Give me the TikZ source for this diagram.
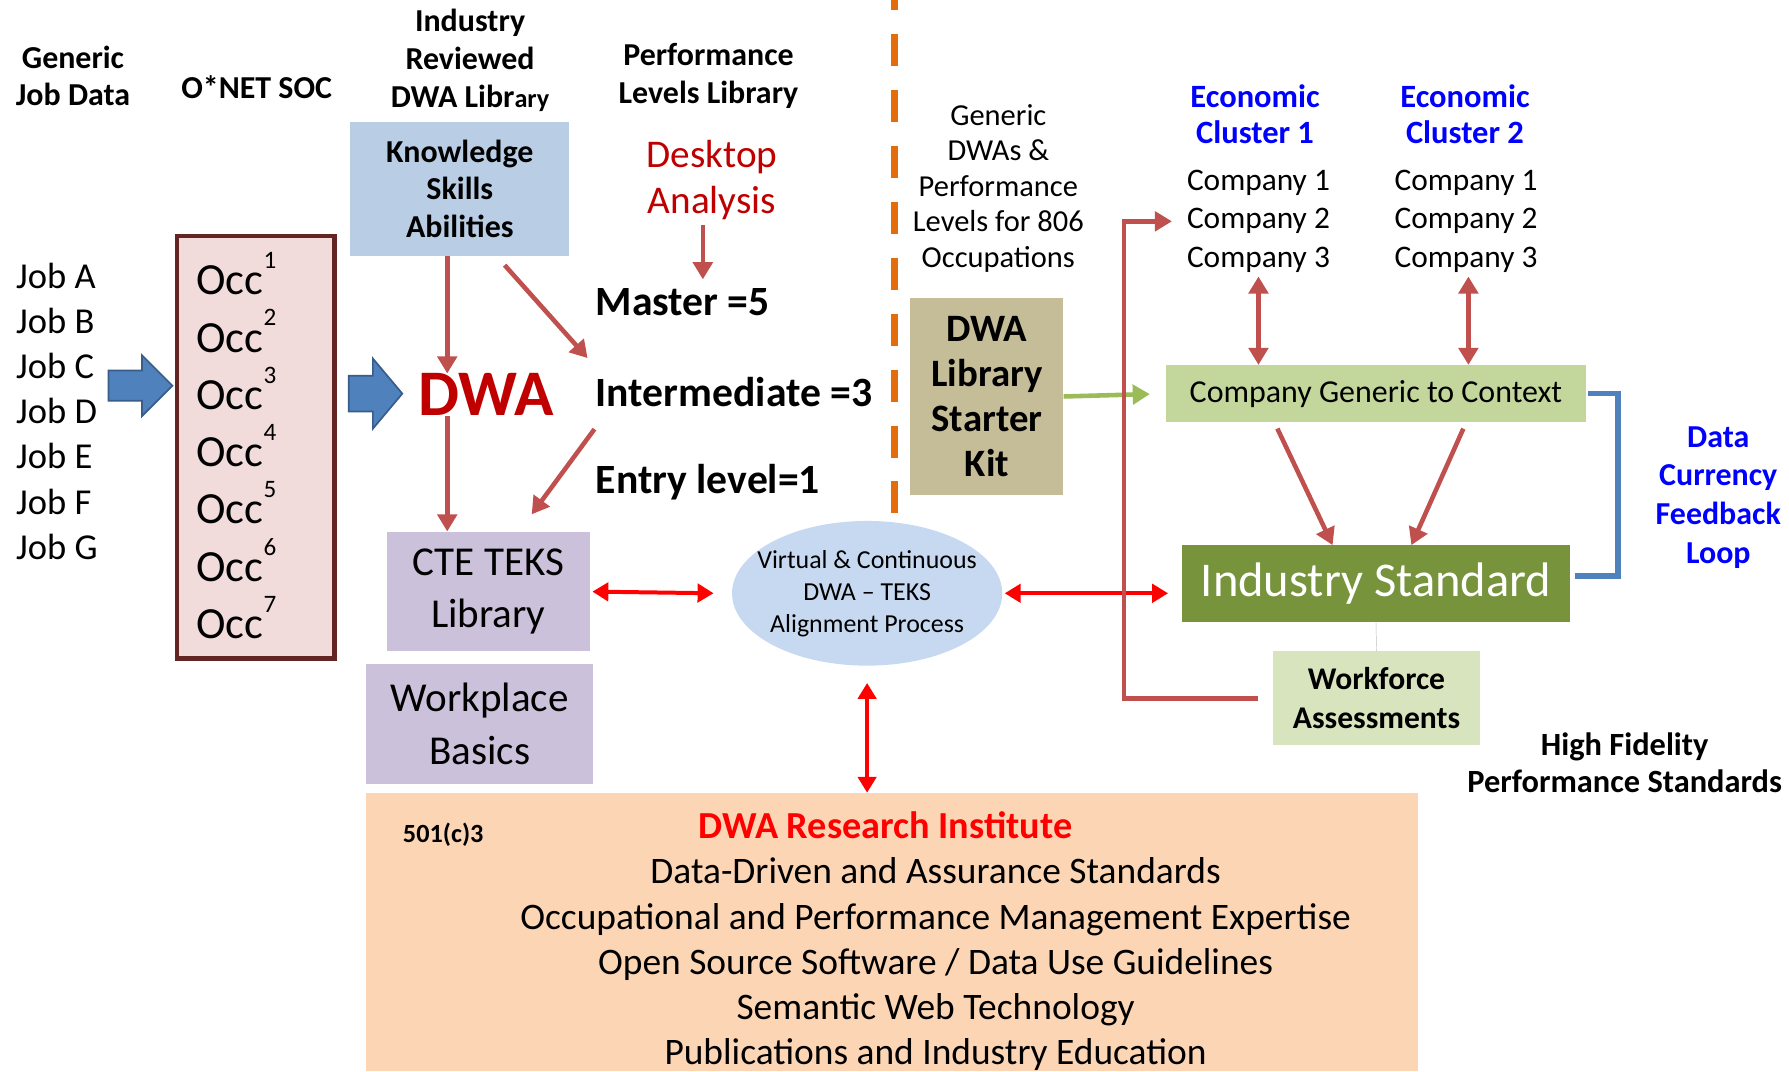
\documentclass[tikz,border=0pt]{standalone}
\usepackage{fontspec}
\setmainfont{Carlito}
\usetikzlibrary{arrows.meta, shapes.arrows, shapes.geometric, positioning}

\definecolor{ksablue}{HTML}{B9CDE5}
\definecolor{occpink}{HTML}{F2DCDB}
\definecolor{occborder}{HTML}{632523}
\definecolor{tekslilac}{HTML}{CCC1DA}
\definecolor{alignblue}{HTML}{C6D9F1}
\definecolor{kittan}{HTML}{C4BD97}
\definecolor{contextgreen}{HTML}{C3D69B}
\definecolor{standardgreen}{HTML}{77933C}
\definecolor{workforcegreen}{HTML}{D7E4BD}
\definecolor{institutepeach}{HTML}{FCD5B5}
\definecolor{arrowred}{HTML}{C0504D}
\definecolor{dwared}{HTML}{C00000}
\definecolor{dashorange}{HTML}{E46C0A}
\definecolor{blockblue}{HTML}{4F81BD}
\definecolor{blockedge}{HTML}{385D8A}
\definecolor{kitgreen}{HTML}{9BBB59}
\definecolor{textblue}{HTML}{0000FF}

\newcommand{\fsz}[2]{\fontsize{#1}{#2}\selectfont}

\begin{document}
\begin{tikzpicture}[x=1pt, y=-1pt,
    head/.style={font=\fsz{28}{33}\bfseries, align=center, inner sep=0pt},
    box/.style={inner sep=0pt, align=center},
    job/.style={font=\fsz{32}{36}, anchor=west, inner sep=0pt},
    occ/.style={font=\fsz{39}{40}, anchor=west, inner sep=0pt},
    level/.style={font=\fsz{36.5}{40}\bfseries, anchor=west, inner sep=0pt},
    company/.style={font=\fsz{27.5}{30}, inner sep=0pt},
    cluster/.style={font=\fsz{28.5}{32}\bfseries, text=textblue, align=center, inner sep=0pt},
    blockarrow/.style={single arrow, draw=blockedge, fill=blockblue, line width=1.5pt, inner xsep=0pt},
    redarrow/.style={draw=arrowred, line width=4pt, -{Triangle[length=15pt,width=17pt]}},
    redboth/.style={draw=arrowred, line width=4pt, {Triangle[length=15pt,width=17pt]}-{Triangle[length=15pt,width=17pt]}},
    linkboth/.style={draw=red, line width=3.5pt, {Triangle[length=14pt,width=16pt]}-{Triangle[length=14pt,width=16pt]}},
]
    \path[use as bounding box, fill=white] (0,0) rectangle (1568,939);

    \node [head] (jobdata) at (64,66.5) {Generic\\Job Data};
    \node [head] (onet) at (225,76) {O*NET SOC};
    \node [head] (dwalib) at (412,53) {Industry\\Reviewed\\DWA Libr{\fsz{23}{33}ary}};
    \node [head] (perflib) at (621,66.5) {Performance\\Levels Library};
    \node [box, font=\fsz{26.7}{31}] (genericdwa) at (875,165) {Generic\\DWAs \&\\Performance\\Levels for 806\\Occupations};
    \node [cluster] (econ1) at (1100,100) {Economic\\Cluster 1};
    \node [cluster] (econ2) at (1284,100) {Economic\\Cluster 2};
    \foreach \k/\x in {1/1103, 2/1285}
        \foreach \n in {1,2,3}
            \node [company] (c\k\n) at (\x,126+34*\n) {Company \n};

    \foreach \j [count=\i] in {A,B,C,D,E,F,G}
        \node [job] (job\j) at (14,242+39.5*\i-39.5) {Job \j};
    \node [draw=occborder, line width=4pt, fill=occpink, minimum width=138pt, minimum height=370pt] (occbox) at (224,392) {};
    \foreach \i in {1,...,7}
        \node [occ] (occ\i) at (172,240+50.2*\i-50.2) {Occ\raisebox{23pt}{\fsz{22}{22}\i}};

    \node [blockarrow, inner ysep=12.5pt, minimum height=56pt, single arrow head extend=13.5pt, single arrow tip angle=90] (jobarrow) at (116.5,338) {};
    \node [blockarrow, inner ysep=15pt, minimum height=47pt, single arrow head extend=15pt, single arrow tip angle=100] (occarrow) at (322.5,345) {};

    \node [box, fill=ksablue, minimum width=192pt, minimum height=117pt, font=\fsz{28}{33}\bfseries] (ksa) at (403,165.5) {Knowledge\\Skills\\Abilities};
    \node [inner sep=0pt, text=dwared, font=\fsz{57}{60}\bfseries] (dwa) at (426,346) {DWA};
    \node [box, text=dwared, font=\fsz{34.4}{40}] (desktop) at (624,158) {Desktop\\Analysis};
    \node [level] (master) at (522,265) {Master =5};
    \node [level] (inter) at (522,344) {Intermediate =3};
    \node [level] (entry) at (522,423) {Entry level=1};

    \node [box, fill=tekslilac, minimum width=178pt, minimum height=105pt, font=\fsz{36}{46}] (teks) at (428,518.5) {CTE TEKS\\Library};
    \node [box, fill=tekslilac, minimum width=199pt, minimum height=105pt, font=\fsz{36}{46}] (basics) at (420.5,634.5) {Workplace\\Basics};
    \node [ellipse, fill=alignblue, inner xsep=-12.5pt, inner ysep=7pt, align=center, font=\fsz{22.7}{28}] (align) at (760,520) {Virtual \& Continuous\\DWA -- TEKS\\Alignment Process};

    \node [box, fill=kittan, minimum width=134pt, minimum height=173pt, font=\fsz{34}{39.3}\bfseries] (kit) at (865,347.5) {DWA\\Library\\Starter\\Kit};
    \node [box, fill=contextgreen, minimum width=368pt, minimum height=50pt, font=\fsz{28}{30}] (context) at (1206,345) {Company Generic to Context};
    \node [box, fill=standardgreen, text=white, minimum width=340pt, minimum height=67pt, font=\fsz{42.5}{44}] (standard) at (1206,511.5) {Industry Standard};
    \node [box, fill=workforcegreen, minimum width=181pt, minimum height=82pt, font=\fsz{27.7}{34}\bfseries] (workforce) at (1206.5,612) {Workforce\\Assessments};
    \node [cluster, font=\fsz{28}{34}\bfseries] (loop) at (1506,436) {Data\\Currency\\Feedback\\Loop};
    \node [head, font=\fsz{28.4}{33}\bfseries] (fidelity) at (1424,668.5) {High Fidelity\\Performance Standards};

    \node [box, fill=institutepeach, minimum width=922pt, minimum height=244pt] (institute) at (782,817) {};
    \node [inner sep=0pt, anchor=west, font=\fsz{23}{24}\bfseries] (nonprofit) at (353,732) {501(c)3};
    \node [inner sep=0pt, text=red, font=\fsz{33.5}{36}\bfseries] (research) at (776,723) {DWA Research Institute};
    \node [box, font=\fsz{32.8}{39.5}] (services) at (820,845) {Data-Driven and Assurance Standards\\Occupational and Performance Management Expertise\\Open Source Software / Data Use Guidelines\\Semantic Web Technology\\Publications and Industry Education};

    \draw [dashorange, line width=6.5pt, dash pattern=on 28pt off 21pt] (784,-19) -- (784,450);

    \draw [redarrow] ([xshift=-11pt]ksa.south) -- ([xshift=-11pt]ksa.south |- dwa.north);
    \draw [redarrow, shorten <=11pt] ([xshift=32pt]ksa.south) -- ([xshift=-7pt,yshift=17pt]inter.north west);
    \draw [redarrow, shorten <=4pt, shorten >=8pt] ([xshift=-8pt]desktop.south) -- ([xshift=-8pt]desktop.south |- master.north);
    \draw [redarrow] ([xshift=-34pt]dwa.south) -- ([xshift=-34pt]dwa.south |- teks.north);
    \draw [redarrow] ([xshift=-1pt,yshift=-19pt]inter.south west) -- ([xshift=38pt,yshift=15pt]teks.north);

    \draw [linkboth, shorten <=2pt, shorten >=2pt] (teks.east) -- ([xshift=-14pt]align.west);
    \draw [linkboth, shorten <=2pt, shorten >=12pt] (align.east) -- (standard.west |- align.east);
    \draw [linkboth, shorten <=15pt] (align.south) -- (align.south |- institute.north);

    \draw [draw=kitgreen, line width=4pt, -{Triangle[length=15pt,width=17pt]}, shorten >=14pt] (kit.east) -- (context.west);
    \draw [redboth, shorten <=3pt] (c13.south) -- (c13.south |- context.north);
    \draw [redboth, shorten <=3pt] ([xshift=2pt]c23.south) -- ([xshift=2pt]c23.south |- context.north);
    \draw [redarrow, shorten <=6pt] ([xshift=-89pt]context.south) -- ([xshift=-38pt]standard.north);
    \draw [redarrow, shorten <=6pt] ([xshift=79pt]context.south) -- ([xshift=31pt]standard.north);
    \draw [blockblue, line width=5pt] ([xshift=2pt]context.east) -| ([xshift=42pt,yshift=6.5pt]standard.east) -- ([xshift=4pt,yshift=6.5pt]standard.east);
    \draw [gray!50, thin] (standard.south) -- (workforce.north);
    \draw [redarrow] ([xshift=-13pt]workforce.west) -| ([xshift=-55pt]c12.west) -- ([xshift=-13pt]c12.west);
\end{tikzpicture}
\end{document}
